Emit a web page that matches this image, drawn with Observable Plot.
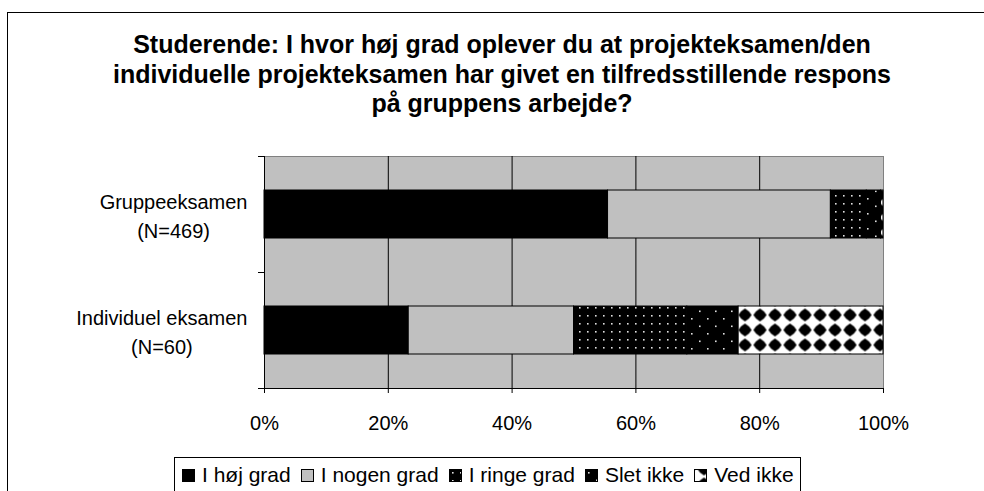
<!DOCTYPE html>
<html>
<head>
<meta charset="utf-8">
<script src="https://cdn.jsdelivr.net/npm/d3@7"></script>
<script src="https://cdn.jsdelivr.net/npm/@observablehq/plot@0.6"></script>
<style>
  html, body { margin: 0; padding: 0; background: #fff; }
  body { font-family: "Liberation Sans", Arial, sans-serif; color: #000; }
  #wrap { position: relative; width: 984px; height: 491px; overflow: hidden; background: #fff; }
  #chart { position: absolute; left: 0; top: 0; }
  #border { position: absolute; left: 7px; top: 12px; width: 1100px; height: 700px; border: 1px solid #000; box-sizing: border-box; pointer-events: none; }
  #title { position: absolute; left: 0; top: 30px; width: 1004px; text-align: center; font-weight: bold; font-size: 25px; line-height: 29.5px; }
  #legend { position: absolute; left: 174px; top: 457px; width: 627px; height: 60px; box-sizing: border-box; border: 1px solid #000; background: #fff; padding: 5px 0 0 7px; display: flex; align-items: flex-start; font-size: 21px; line-height: 24px; white-space: nowrap; }
  #legend .item { display: inline-flex; align-items: center; margin-right: 10px; height: 24px; }
  #legend svg { display: block; margin-right: 7px; }
</style>
</head>
<body>
<div id="wrap">
  <div id="chart"></div>
  <div id="title"></div>
  <div id="legend"></div>
  <div id="border"></div>
</div>
<script>
// ---- data ----
const titleLines = [
  "Studerende: I hvor høj grad oplever du at projekteksamen/den",
  "individuelle projekteksamen har givet en tilfredsstillende respons",
  "på gruppens arbejde?"
];
const categories = ["Gruppeeksamen\n(N=469)", "Individuel eksamen\n(N=60)"];
const responses = ["I høj grad", "I nogen grad", "I ringe grad", "Slet ikke", "Ved ikke"];
const gruppeValues = [55.5, 36.0, 5.8, 2.3, 0.4];
const individuelValues = [23.3, 26.7, 18.3, 8.3, 23.4];
const xTicks = [0, 20, 40, 60, 80, 100];
const xTickLabels = ["0%", "20%", "40%", "60%", "80%", "100%"];

// ---- styles ----
const fills = ["#000000", "#c0c0c0", "url(#pRinge)", "url(#pSlet)", "url(#pVed)"];

const rows = [];
[gruppeValues, individuelValues].forEach((vals, pos) => {
  vals.forEach((v, j) => rows.push({pos, cat: categories[pos], resp: responses[j], value: v}));
});

const font = "'Liberation Sans', Arial, sans-serif";

const chart = Plot.plot({
  width: 984,
  height: 440,
  marginTop: 156,
  marginBottom: 52,
  marginLeft: 264,
  marginRight: 101,
  style: {fontFamily: font, fontSize: "20px", color: "#000", background: "transparent", overflow: "visible"},
  x: {domain: [0, 100], label: null},
  y: {domain: [0, 2], reverse: true, label: null},
  color: {domain: responses, range: fills},
  marks: [
    Plot.frame({fill: "#c0c0c0", stroke: "#808080"}),
    Plot.gridX([20, 40, 60, 80], {stroke: "#000", strokeOpacity: 1, strokeWidth: 1}),
    Plot.rectX(rows, Plot.stackX({
      x: "value", y: "pos", interval: 1, fill: "resp", order: responses,
      stroke: "#000", strokeWidth: 1, insetTop: 34, insetBottom: 34
    })),
    Plot.ruleX([0], {stroke: "#000"}),
    Plot.ruleY([2], {stroke: "#000"}),
    Plot.axisY([0, 1, 2], {tickSize: 6, tickFormat: () => "", stroke: "#000", label: null}),
    Plot.axisY([0.5, 1.5], {
      className: "ylab", tickSize: 0, tickPadding: 17, label: null,
      tickFormat: d => categories[Math.floor(d)], lineHeight: 1.45, fontSize: 20, fill: "#000"
    }),
    Plot.axisX(xTicks, {
      tickSize: 5, tickPadding: 22, stroke: "#000", fill: "#000", fontSize: 20, label: null,
      tickFormat: d => xTickLabels[xTicks.indexOf(d)]
    })
  ]
});

document.getElementById("chart").appendChild(chart);

// pattern defs
const svg = d3.select(chart.tagName.toLowerCase() === "svg" ? chart : chart.querySelector("svg"));
const defs = svg.insert("defs", ":first-child");
// dense dots (I ringe grad)
const p1 = defs.append("pattern").attr("id", "pRinge").attr("patternUnits", "userSpaceOnUse")
  .attr("width", 8).attr("height", 8);
p1.append("rect").attr("width", 8).attr("height", 8).attr("fill", "#000");
p1.append("rect").attr("x", 3).attr("y", 3).attr("width", 1.6).attr("height", 1.6).attr("fill", "#e0e0e0");
// sparse dots (Slet ikke)
const p2 = defs.append("pattern").attr("id", "pSlet").attr("patternUnits", "userSpaceOnUse")
  .attr("width", 16).attr("height", 15);
p2.append("rect").attr("width", 16).attr("height", 15).attr("fill", "#000");
p2.append("rect").attr("x", 3).attr("y", 3).attr("width", 1.6).attr("height", 1.6).attr("fill", "#e0e0e0");
p2.append("rect").attr("x", 11).attr("y", 10.5).attr("width", 1.6).attr("height", 1.6).attr("fill", "#e0e0e0");
// diamonds (Ved ikke)
const p3 = defs.append("pattern").attr("id", "pVed").attr("patternUnits", "userSpaceOnUse")
  .attr("x", 2.5).attr("y", 7.5).attr("width", 15).attr("height", 15);
p3.append("rect").attr("width", 15).attr("height", 15).attr("fill", "#fff");
p3.append("path").attr("d", "M7.5,0.9 Q11.8,3.2 14.1,7.5 Q11.8,11.8 7.5,14.1 Q3.2,11.8 0.9,7.5 Q3.2,3.2 7.5,0.9 Z").attr("fill", "#000");

// center the two lines of each category label inside a right-aligned block
svg.selectAll(".ylab text").each(function() {
  const spans = this.querySelectorAll("tspan");
  if (!spans.length) return;
  const w = Math.max(...Array.from(spans, s => s.getComputedTextLength()));
  const base = parseFloat(spans[0].getAttribute("x")) || 0;
  this.setAttribute("text-anchor", "middle");
  spans.forEach(s => s.setAttribute("x", String(base - w / 2)));
});

// title
document.getElementById("title").innerHTML = titleLines.join("<br>");

// legend
const legend = d3.select("#legend");
responses.forEach((r, i) => {
  const item = legend.append("span").attr("class", "item");
  const sw = item.append("svg").attr("width", 13).attr("height", 13);
  sw.append("rect").attr("x", 0.5).attr("y", 0.5).attr("width", 12).attr("height", 12)
    .attr("fill", fills[i]).attr("stroke", "#000");
  item.append("span").text(r);
});
</script>
</body>
</html>
